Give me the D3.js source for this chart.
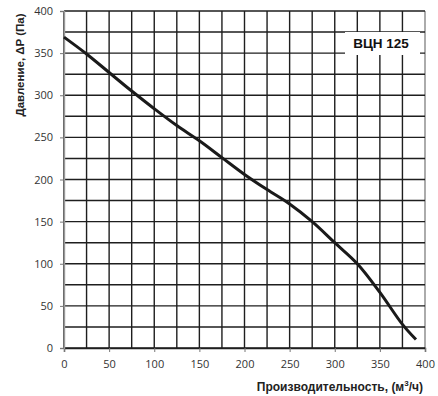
<!DOCTYPE html>
<html>
<head>
<meta charset="utf-8">
<script src="https://cdn.jsdelivr.net/npm/d3@7"></script>
<style>
  body { margin: 0; background: #fff; }
  svg { display: block; }
</style>
</head>
<body>
<div id="chart"></div>
<script>
// flow (m3/h) vs pressure (Pa)
var flow = [0, 25, 50, 75, 100, 125, 150, 175, 200, 225, 250, 275, 300, 325, 350, 375, 390];
var pressure = [369, 349, 327, 305, 284, 264, 246, 226, 206, 188, 171, 150, 125, 100, 66, 28, 10];
var xTicks = [0, 50, 100, 150, 200, 250, 300, 350, 400];
var yTicks = [0, 50, 100, 150, 200, 250, 300, 350, 400];
var gridSteps = d3.range(0, 401, 25);
var modelName = "ВЦН 125";

var w = 438, h = 396,
    margin = { top: 11, right: 13, bottom: 48, left: 64 };
var width = w - margin.left - margin.right,
    height = h - margin.top - margin.bottom;

var svg = d3.select("#chart").append("svg")
    .attr("width", w)
    .attr("height", h);

var x = d3.scaleLinear().domain([0, 400]).range([0, width]);
var y = d3.scaleLinear().domain([0, 400]).range([height, 0]);

var g = svg.append("g")
    .attr("transform", "translate(" + margin.left + "," + margin.top + ")");

// grid
g.append("g").selectAll("line")
    .data(gridSteps)
    .enter().append("line")
    .attr("x1", function (d) { return x(d); })
    .attr("x2", function (d) { return x(d); })
    .attr("y1", 0)
    .attr("y2", height)
    .attr("stroke", function (d) { return d == 400 ? "#888" : "#1e1e1e"; })
    .attr("stroke-width", 1.4);

g.append("g").selectAll("line")
    .data(gridSteps)
    .enter().append("line")
    .attr("y1", function (d) { return y(d); })
    .attr("y2", function (d) { return y(d); })
    .attr("x1", 0)
    .attr("x2", width)
    .attr("stroke", "#1e1e1e")
    .attr("stroke-width", 1.4);

// axes
var xAxis = g.append("g")
    .attr("transform", "translate(0," + height + ")")
    .call(d3.axisBottom(x).tickValues(xTicks).tickSize(4).tickPadding(8));
var yAxis = g.append("g")
    .call(d3.axisLeft(y).tickValues(yTicks).tickSize(4).tickPadding(7));

[xAxis, yAxis].forEach(function (a) {
    a.select(".domain").attr("stroke", "#999").attr("stroke-width", 1.4);
    a.selectAll(".tick line").attr("stroke", "#777");
    a.selectAll("text")
        .style("font-family", "'Open Sans', sans-serif")
        .style("font-size", "11px")
        .attr("fill", "#333");
});
xAxis.select(".domain").attr("stroke", "#1e1e1e");

// curve
var line = d3.line()
    .x(function (d, i) { return x(flow[i]); })
    .y(function (d) { return y(d); })
    .curve(d3.curveCatmullRom.alpha(0.5));

g.append("path")
    .datum(pressure)
    .attr("d", line)
    .attr("fill", "none")
    .attr("stroke", "#1a1a1a")
    .attr("stroke-width", 3);

// model label
var boxX = 345 - margin.left, boxY = 32 - margin.top;
g.append("rect")
    .attr("x", boxX)
    .attr("y", boxY)
    .attr("width", 75)
    .attr("height", 23)
    .attr("fill", "#fff");
g.append("text")
    .attr("x", boxX + 36)
    .attr("y", boxY + 16)
    .attr("text-anchor", "middle")
    .style("font-family", "'Liberation Sans', Arial, sans-serif")
    .style("font-weight", "bold")
    .style("font-size", "13.5px")
    .attr("fill", "#111")
    .text(modelName);

// axis titles
svg.append("text")
    .attr("x", 423)
    .attr("y", 391)
    .attr("text-anchor", "end")
    .style("font-family", "'Liberation Sans', Arial, sans-serif")
    .style("font-weight", "bold")
    .style("font-size", "12px")
    .attr("fill", "#222")
    .html("Производительность, (м<tspan dy='-5' font-size='8px'>3</tspan><tspan dy='5'>/ч)</tspan>");

svg.append("text")
    .attr("transform", "translate(24,65) rotate(-90)")
    .attr("text-anchor", "middle")
    .style("font-family", "'Liberation Sans', Arial, sans-serif")
    .style("font-weight", "bold")
    .style("font-size", "11.5px")
    .attr("fill", "#222")
    .text("Давление, ΔP (Па)");
</script>
</body>
</html>
